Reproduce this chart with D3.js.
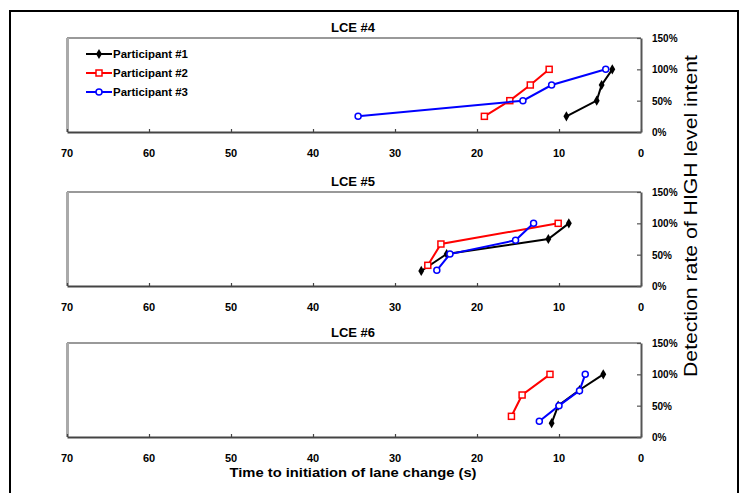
<!DOCTYPE html>
<html><head><meta charset="utf-8">
<script src="https://cdn.jsdelivr.net/npm/d3@7"></script>
<style>
body{margin:0;background:#fff;}
svg{display:block;font-family:"Liberation Sans",Arial,sans-serif;}
</style></head>
<body><svg id="c" width="745" height="493"></svg>
<script>
const panelTitles = ["LCE #4", "LCE #5", "LCE #6"];
const seriesNames = ["Participant #1", "Participant #2", "Participant #3"];
const xTicks = [70, 60, 50, 40, 30, 20, 10, 0];
const yTicks = [0, 0.5, 1.0, 1.5];
const yTickLabels = ["0%", "50%", "100%", "150%"];
// [time to initiation (s), detection rate]
const lce4_p1 = [[9.1,0.25],[5.4,0.50],[4.8,0.75],[3.5,1.00]];
const lce4_p2 = [[19.1,0.25],[16.0,0.50],[13.5,0.75],[11.2,1.00]];
const lce4_p3 = [[34.5,0.25],[14.4,0.50],[10.9,0.75],[4.3,1.00]];
const lce5_p1 = [[26.8,0.24],[23.7,0.51],[11.3,0.75],[8.8,1.00]];
const lce5_p2 = [[26.0,0.33],[24.4,0.67],[10.1,1.00]];
const lce5_p3 = [[24.9,0.25],[23.3,0.51],[15.3,0.73],[13.1,1.00]];
const lce6_p1 = [[10.9,0.22],[10.1,0.50],[7.5,0.75],[4.6,1.00]];
const lce6_p2 = [[15.8,0.33],[14.5,0.67],[11.1,1.00]];
const lce6_p3 = [[12.4,0.25],[10.0,0.50],[7.5,0.74],[6.8,1.00]];
const panelsData = [[lce4_p1,lce4_p2,lce4_p3],[lce5_p1,lce5_p2,lce5_p3],[lce6_p1,lce6_p2,lce6_p3]];
const colors = ["#000000", "#ff0000", "#0000ff"];

const svg = d3.select("#c");
// outer frame
svg.append("rect").attr("x",10).attr("y",11).attr("width",728).attr("height",490)
  .attr("fill","none").attr("stroke","#000").attr("stroke-width",2);

const left = 67, right = 641;
const tops = [38, 192, 343];
const ph = 94;
const x = d3.scaleLinear().domain([70,0]).range([left,right]);

panelsData.forEach((series, pi) => {
  const top = tops[pi], bottom = top + ph;
  const y = d3.scaleLinear().domain([0,1.5]).range([bottom, top]);
  const g = svg.append("g");
  // frame: top and left gray
  g.append("line").attr("x1",left).attr("x2",right).attr("y1",top).attr("y2",top)
    .attr("stroke","#999").attr("stroke-width",2);
  g.append("line").attr("x1",left+0.5).attr("x2",left+0.5).attr("y1",top).attr("y2",bottom)
    .attr("stroke","#aaa").attr("stroke-width",3);
  // bottom axis
  const xa = g.append("g").attr("transform",`translate(0,${bottom})`)
    .call(d3.axisBottom(x).tickValues(xTicks).tickSizeInner(-3).tickSizeOuter(0).tickFormat(""));
  xa.select(".domain").attr("stroke","#444").attr("stroke-width",2);
  xa.selectAll(".tick line").attr("stroke","#444").attr("stroke-width",1.2);
  g.selectAll(".xl").data(xTicks).enter().append("text")
    .attr("x",d=>x(d)).attr("y",bottom+25).attr("text-anchor","middle")
    .attr("font-size",11).attr("font-weight","bold").text(d=>d);
  // right axis
  const ya = g.append("g").attr("transform",`translate(${right},0)`)
    .call(d3.axisLeft(y).tickValues(yTicks).tickSizeInner(4).tickSizeOuter(0).tickFormat(""));
  ya.select(".domain").attr("stroke","#555").attr("stroke-width",2);
  ya.selectAll(".tick line").attr("stroke","#555").attr("stroke-width",1.2);
  g.selectAll(".yl").data(yTicks).enter().append("text")
    .attr("x",652).attr("y",d=>y(d)+4).attr("font-size",10).attr("font-weight","bold")
    .text((d,i)=>yTickLabels[i]);
  // title
  g.append("text").attr("x",353).attr("y",top-6).attr("text-anchor","middle")
    .attr("font-size",13).attr("font-weight","bold").text(panelTitles[pi]);
  // series
  const line = d3.line().x(d=>x(d[0])).y(d=>y(d[1]));
  series.forEach((pts, si) => {
    g.append("path").datum(pts).attr("d",line).attr("fill","none")
      .attr("stroke",colors[si]).attr("stroke-width",2);
    drawMarkers(g, pts.map(d=>[x(d[0]),y(d[1])]), si);
  });
});

function drawMarkers(g, pts, si){
  if (si===0){
    g.selectAll(null).data(pts).enter().append("path")
      .attr("d",d3.symbol().type(d3.symbolDiamond).size(30)())
      .attr("transform",d=>`translate(${d[0]},${d[1]})`).attr("fill","#000");
  } else if (si===1){
    g.selectAll(null).data(pts).enter().append("rect")
      .attr("x",d=>d[0]-3).attr("y",d=>d[1]-3).attr("width",6).attr("height",6)
      .attr("fill","#fff").attr("stroke","#ff0000").attr("stroke-width",1.5);
  } else {
    g.selectAll(null).data(pts).enter().append("circle")
      .attr("cx",d=>d[0]).attr("cy",d=>d[1]).attr("r",3)
      .attr("fill","#fff").attr("stroke","#0000ff").attr("stroke-width",1.5);
  }
}

// legend
const lg = svg.append("g");
seriesNames.forEach((name, i) => {
  const ly = 54 + i*19;
  lg.append("line").attr("x1",86).attr("x2",112).attr("y1",ly).attr("y2",ly)
    .attr("stroke",colors[i]).attr("stroke-width",2);
  drawMarkers(lg, [[99,ly]], i);
  lg.append("text").attr("x",113).attr("y",ly+4).attr("font-size",10.5).attr("font-weight","bold")
    .attr("textLength",75).attr("lengthAdjust","spacingAndGlyphs").text(name);
});

// axis titles
svg.append("text").attr("x",353).attr("y",477).attr("text-anchor","middle")
  .attr("font-size",13.5).attr("font-weight","bold").attr("textLength",247)
  .attr("lengthAdjust","spacingAndGlyphs").text("Time to initiation of lane change (s)");
svg.append("text").attr("transform","translate(697,216) rotate(-90)").attr("text-anchor","middle")
  .attr("font-size",18).attr("textLength",322).attr("lengthAdjust","spacingAndGlyphs")
  .text("Detection rate of HIGH level intent");
</script></body></html>
